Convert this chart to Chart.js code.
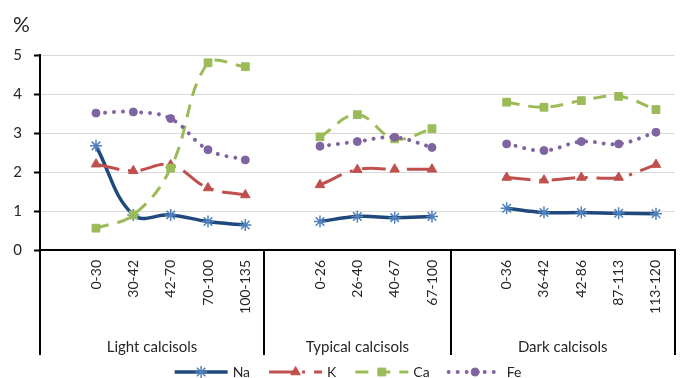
<!DOCTYPE html>
<html><head><meta charset="utf-8">
<script src="https://cdn.jsdelivr.net/npm/chart.js@4"></script>
<style>html,body{margin:0;padding:0;background:#fff}</style>
</head><body>
<canvas id="c" width="683" height="378"></canvas>
<script>
// Category slots ('' = blank separator slot before each soil group)
const categories = ['', '0-30', '30-42', '42-70', '70-100', '100-135',
                    '', '0-26', '26-40', '40-67', '67-100',
                    '', '0-36', '36-42', '42-86', '87-113', '113-120'];
const groupNames = ['Light calcisols', 'Typical calcisols', 'Dark calcisols'];
const seriesNames = ['Na', 'K', 'Ca', 'Fe'];
const na = [null, 2.67, 0.90, 0.90, 0.73, 0.64, null, 0.73, 0.86, 0.83, 0.86, null, 1.07, 0.96, 0.96, 0.94, 0.93];
const k  = [null, 2.20, 2.03, 2.18, 1.59, 1.41, null, 1.67, 2.06, 2.07, 2.07, null, 1.86, 1.79, 1.86, 1.86, 2.19];
const ca = [null, 0.56, 0.90, 2.10, 4.80, 4.70, null, 2.90, 3.47, 2.85, 3.11, null, 3.79, 3.66, 3.83, 3.94, 3.60];
const fe = [null, 3.51, 3.54, 3.37, 2.57, 2.31, null, 2.66, 2.78, 2.89, 2.63, null, 2.72, 2.55, 2.78, 2.72, 3.02];
const yMin = 0, yMax = 5, yStep = 1;
const yUnit = '%';

const FONT = 'Lato, "Open Sans", sans-serif';
const TEXT = '#262626';

const groupPlugin = {
  id: 'groups',
  afterDraw(chart) {
    const x = chart.scales.x, y = chart.scales.y, ctx = chart.ctx;
    const edges = categories.map((c, i) => c === '' ? i - 0.5 : null).filter(v => v !== null);
    edges.push(categories.length - 0.5);
    const top = x.top, bottom = x.top + 105;
    ctx.save();
    ctx.strokeStyle = '#000'; ctx.lineWidth = 2;
    edges.forEach(e => {
      const px = Math.round(x.getPixelForValue(e));
      ctx.beginPath(); ctx.moveTo(px, top - 1); ctx.lineTo(px, bottom); ctx.stroke();
    });
    ctx.fillStyle = TEXT; ctx.font = '15px ' + FONT;
    ctx.textAlign = 'center'; ctx.textBaseline = 'middle';
    groupNames.forEach((g, i) => {
      const cx = (x.getPixelForValue(edges[i]) + x.getPixelForValue(edges[i + 1])) / 2;
      ctx.fillText(g, cx, top + 97);
    });
    // unit label
    ctx.font = '21px ' + FONT; ctx.textAlign = 'left';
    ctx.fillText(yUnit, 13, 25);
    // legend
    const ds = chart.data.datasets;
    ctx.font = '14px ' + FONT;
    const SW = 53, GAP = 5, SP = 19, LY = 372;
    const widths = ds.map(d => ctx.measureText(d.label).width);
    const total = widths.reduce((a, b) => a + b, 0) + ds.length * (SW + GAP) + SP * (ds.length - 1);
    let x0 = 348 - total / 2;
    ds.forEach((d, i) => {
      ctx.save();
      ctx.strokeStyle = d.borderColor; ctx.lineWidth = d.borderWidth;
      ctx.setLineDash(d.borderDash || []); ctx.lineCap = d.borderCapStyle || 'butt';
      ctx.beginPath(); ctx.moveTo(x0, LY); ctx.lineTo(x0 + SW, LY); ctx.stroke();
      ctx.setLineDash([]);
      ctx.fillStyle = d.pointBackgroundColor; ctx.strokeStyle = d.pointBorderColor;
      ctx.lineWidth = d.pointBorderWidth;
      Chart.helpers.drawPoint(ctx, {pointStyle: d.pointStyle, radius: d.pointRadius, borderWidth: d.pointBorderWidth, rotation: 0}, x0 + SW / 2, LY);
      ctx.restore();
      ctx.fillStyle = TEXT; ctx.textAlign = 'left'; ctx.textBaseline = 'middle';
      ctx.fillText(d.label, x0 + SW + GAP, LY);
      x0 += SW + GAP + widths[i] + SP;
    });
    ctx.restore();
  }
};

const common = {tension: 0.4, spanGaps: false, fill: false};
new Chart(document.getElementById('c'), {
  type: 'line',
  data: {
    labels: categories,
    datasets: [
      Object.assign({label: seriesNames[0], data: na, borderColor: '#1F497D', borderWidth: 3.5,
        pointStyle: 'star', pointRadius: 6, pointBorderColor: '#4F81BD', pointBackgroundColor: '#4F81BD', pointBorderWidth: 1.5, order: 3}, common),
      Object.assign({label: seriesNames[1], data: k, borderColor: '#C0504D', borderWidth: 3, borderDash: [24, 9, 3, 9],
        pointStyle: 'triangle', pointRadius: 5.5, pointBorderColor: '#C0504D', pointBackgroundColor: '#C0504D', pointBorderWidth: 1, order: 2}, common),
      Object.assign({label: seriesNames[2], data: ca, borderColor: '#9BBB59', borderWidth: 3, borderDash: [13, 9],
        pointStyle: 'rect', pointRadius: 5.5, pointBorderColor: '#9BBB59', pointBackgroundColor: '#9BBB59', pointBorderWidth: 1, order: 1}, common),
      Object.assign({label: seriesNames[3], data: fe, borderColor: '#8064A2', borderWidth: 4, borderDash: [0.01, 9], borderCapStyle: 'round',
        pointStyle: 'circle', pointRadius: 4, pointBorderColor: '#8064A2', pointBackgroundColor: '#8064A2', pointBorderWidth: 1, order: 0}, common)
    ]
  },
  options: {
    responsive: false, animation: false, events: [],
    layout: {padding: {top: 55, right: 1, bottom: 23, left: 0}},
    plugins: {legend: {display: false}, tooltip: {enabled: false}, title: {display: false}},
    scales: {
      x: {
        offset: true,
        ticks: {autoSkip: false, maxRotation: 90, minRotation: 90, color: TEXT, font: {family: FONT, size: 14}, padding: 10},
        grid: {display: false, drawTicks: false},
        border: {display: true, color: '#000', width: 2},
        afterFit(s) { s.height = 105; }
      },
      y: {
        min: yMin, max: yMax,
        ticks: {stepSize: yStep, color: TEXT, font: {family: FONT, size: 15}, padding: 12},
        grid: {color: '#D9D9D9', lineWidth: 1, tickLength: 6, tickColor: '#000', tickWidth: 2},
        border: {color: '#000', width: 2},
        afterFit(s) { s.width = 40; }
      }
    }
  },
  plugins: [groupPlugin]
});
</script>
</body></html>
